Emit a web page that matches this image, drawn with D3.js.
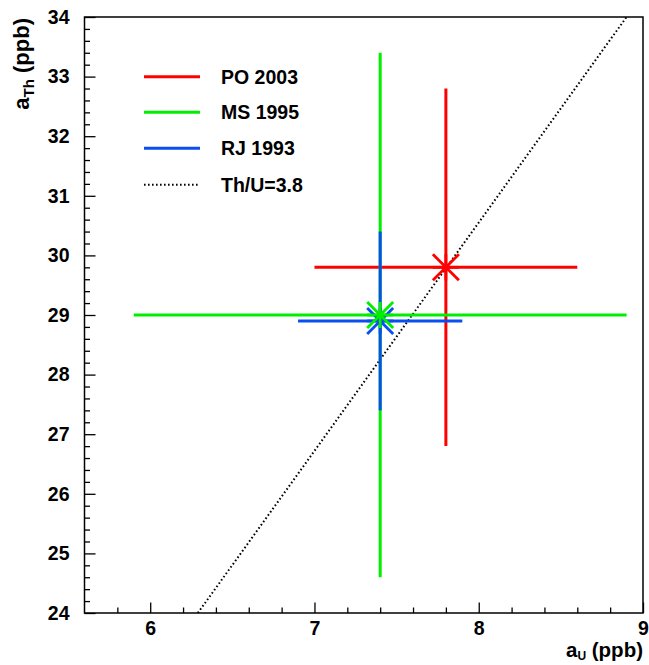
<!DOCTYPE html>
<html><head><meta charset="utf-8">
<script src="https://cdn.jsdelivr.net/npm/d3@7"></script>
<style>body{margin:0;background:#fff}svg{display:block}text{font-family:"Liberation Sans",Arial,Helvetica,sans-serif;font-weight:bold}</style>
</head><body>
<svg id="c" width="649" height="665"></svg>
<script>
// ---- data ----
const seriesNames = ["PO 2003", "MS 1995", "RJ 1993"];
const seriesColors = ["#ff0000", "#00ee00", "#0a4ef0"];
const centerU  = [7.8, 7.4, 7.4];
const centerTh = [29.8, 29.0, 28.9];
const errU  = [0.8, 1.5, 0.5];
const errTh = [3.0, 4.4, 1.5];
const ratioLabel = "Th/U=3.8";
const ratioLineU  = [6.29, 8.90];   // end points of the Th/U line as drawn
const ratioLineTh = [24, 34];
const xMajorTicks = [6, 7, 8, 9];
const yMajorTicks = [24, 25, 26, 27, 28, 29, 30, 31, 32, 33, 34];

const svg = d3.select("#c");
const L = 84.5, R = 643, T = 17, B = 613;
const x = d3.scaleLinear().domain([5.6, 9]).range([L, R]);
const y = d3.scaleLinear().domain([24, 34]).range([B, T]);

const xMinor = d3.range(5.6, 9.0001, 0.2).map(v => +v.toFixed(2)).filter(v => Math.abs(v - Math.round(v)) > 1e-6 && v > 5.61);
const yMinor = d3.range(24, 34.0001, 0.2).map(v => +v.toFixed(2)).filter(v => Math.abs(v - Math.round(v)) > 1e-6);

// clip
svg.append("clipPath").attr("id", "clip").append("rect").attr("x", L).attr("y", T).attr("width", R - L).attr("height", B - T);

// axes
const gx = svg.append("g").attr("transform", `translate(0,${B})`);
gx.call(d3.axisBottom(x).tickValues(xMinor).tickSize(-5.5).tickFormat(""));
const gx2 = svg.append("g").attr("transform", `translate(0,${B})`);
gx2.call(d3.axisBottom(x).tickValues(xMajorTicks).tickSize(-10.5).tickPadding(8).tickFormat(d3.format("d")));
const gy = svg.append("g").attr("transform", `translate(${L},0)`);
gy.call(d3.axisLeft(y).tickValues(yMinor).tickSize(-5.5).tickFormat(""));
const gy2 = svg.append("g").attr("transform", `translate(${L},0)`);
gy2.call(d3.axisLeft(y).tickValues(yMajorTicks).tickSize(-11).tickPadding(15).tickFormat(d3.format("d")));
svg.selectAll(".domain").remove();
svg.selectAll(".tick line").attr("stroke", "#000").attr("stroke-width", 1.3);
svg.selectAll(".tick text").attr("font-size", 19.5).attr("fill", "#000")
  .style("font-family", '"Liberation Sans",Arial,sans-serif').style("font-weight", "bold");

// frame
svg.append("rect").attr("x", L).attr("y", T).attr("width", R - L).attr("height", B - T)
  .attr("fill", "none").attr("stroke", "#000").attr("stroke-width", 1.5);

// ratio line
const plot = svg.append("g").attr("clip-path", "url(#clip)");
plot.append("line")
  .attr("x1", x(ratioLineU[0])).attr("y1", y(ratioLineTh[0]))
  .attr("x2", x(ratioLineU[1])).attr("y2", y(ratioLineTh[1]))
  .attr("stroke", "#000").attr("stroke-width", 2).attr("stroke-dasharray", "1.6,2.4");

// error bars: order red, green, blue
[0, 1, 2].forEach(i => {
  const g = plot.append("g").attr("stroke", seriesColors[i]).attr("stroke-width", 3);
  g.append("line").attr("x1", x(centerU[i] - errU[i])).attr("x2", x(centerU[i] + errU[i]))
    .attr("y1", y(centerTh[i])).attr("y2", y(centerTh[i]));
  g.append("line").attr("x1", x(centerU[i])).attr("x2", x(centerU[i]))
    .attr("y1", y(centerTh[i] - errTh[i])).attr("y2", y(centerTh[i] + errTh[i]));
});
// markers: red, blue, green
const s = 13;
[0, 2, 1].forEach(i => {
  const cx = x(centerU[i]), cy = y(centerTh[i]);
  const g = plot.append("g").attr("stroke", seriesColors[i]).attr("stroke-width", 2.8).attr("transform", `translate(${cx},${cy})`);
  g.append("line").attr("x1", -s).attr("y1", -s).attr("x2", s).attr("y2", s);
  g.append("line").attr("x1", -s).attr("y1", s).attr("x2", s).attr("y2", -s);
  g.append("line").attr("x1", 0).attr("y1", -s).attr("x2", 0).attr("y2", s);
  g.append("line").attr("x1", -s).attr("y1", 0).attr("x2", s).attr("y2", 0);
});

// legend
const legY = [76.7, 112.3, 148.3, 184.7];
const legend = svg.append("g");
seriesNames.forEach((n, i) => {
  legend.append("line").attr("x1", 144).attr("x2", 200).attr("y1", legY[i]).attr("y2", legY[i])
    .attr("stroke", seriesColors[i]).attr("stroke-width", 3);
  legend.append("text").attr("x", 221).attr("y", legY[i] + 7).attr("font-size", 19.5).text(n);
});
legend.append("line").attr("x1", 144).attr("x2", 200).attr("y1", legY[3]).attr("y2", legY[3])
  .attr("stroke", "#000").attr("stroke-width", 2).attr("stroke-dasharray", "1.6,2.4");
legend.append("text").attr("x", 221).attr("y", legY[3] + 7).attr("font-size", 19.5).text(ratioLabel);

// axis titles
const xt = svg.append("text").attr("x", R).attr("y", 657).attr("text-anchor", "end").attr("font-size", 20.5);
xt.append("tspan").text("a");
xt.append("tspan").attr("font-size", 12).attr("dy", 3).text("U");
xt.append("tspan").attr("dy", -3).text(" (ppb)");

const yt = svg.append("text").attr("transform", `translate(29,${T + 1}) rotate(-90)`).attr("text-anchor", "end").attr("font-size", 22);
yt.append("tspan").text("a");
yt.append("tspan").attr("font-size", 15).attr("dy", 5).text("Th");
yt.append("tspan").attr("dy", -5).text(" (ppb)");
</script>
</body></html>
